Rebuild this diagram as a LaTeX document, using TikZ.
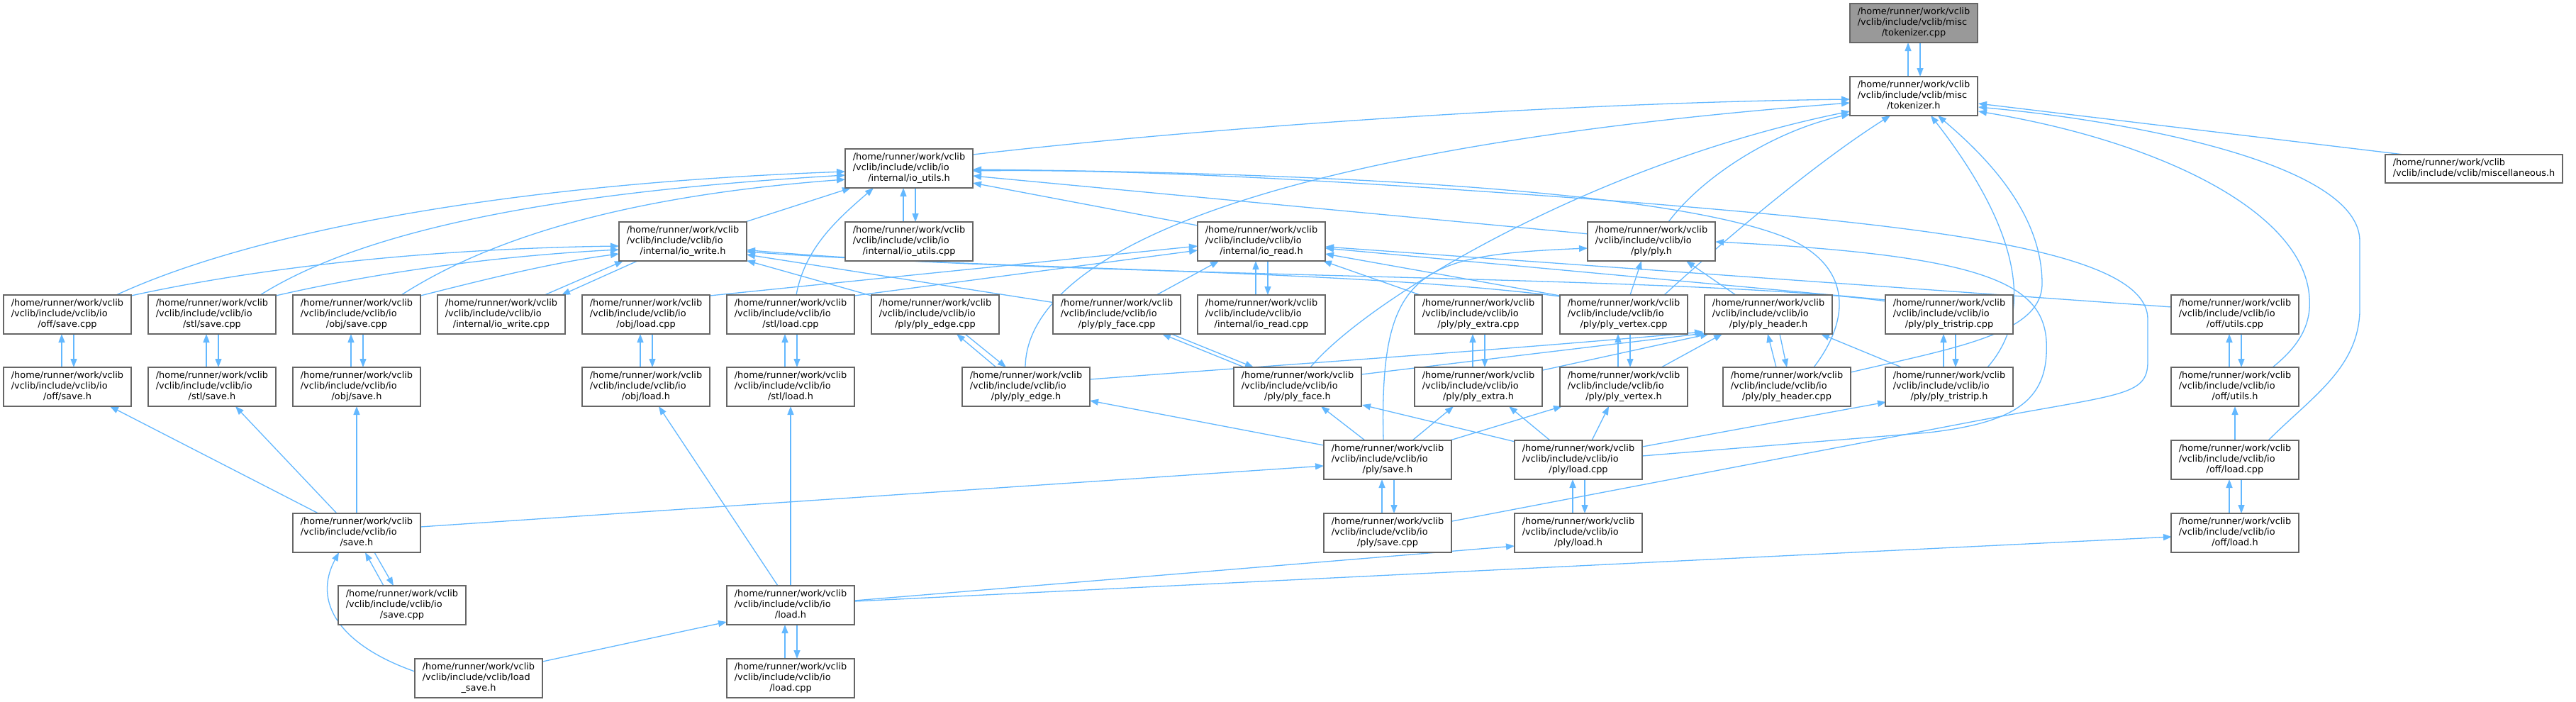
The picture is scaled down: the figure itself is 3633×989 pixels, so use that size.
\documentclass[tikz,border=0pt]{standalone}
\usepackage{fontspec}
\setmainfont{DejaVu Sans}
\usetikzlibrary{arrows.meta}
\definecolor{edgec}{HTML}{63B8FF}
\definecolor{nodeb}{HTML}{666666}
\definecolor{rootf}{HTML}{999999}
\pgfdeclarelayer{bg}
\pgfsetlayers{bg,main}
\newcommand{\lbl}[3]{\begin{tabular}{@{}l@{}}#1\\#2\\\multicolumn{1}{@{}c@{}}{#3}\end{tabular}}
\newcommand{\iol}[1]{\lbl{/home/runner/work/vclib}{/vclib/include/vclib/io}{#1}}
\begin{document}
\begin{tikzpicture}[x=1pt,y=-1pt,
 nbox/.style={draw=nodeb,line width=1.3pt,fill=white,minimum width=180pt,minimum height=55pt,inner sep=0pt,font=\fontsize{12.9}{14.7}\selectfont},
 rootbox/.style={nbox,fill=rootf},
 lnk/.style={draw=edgec,line width=1.3pt,-{Triangle[length=12pt,width=9pt]}}]
\useasboundingbox (0,0) rectangle (3633,989);
% row 0-2
\node[rootbox] (tokcpp) at (2699,32.5) {\lbl{/home/runner/work/vclib}{/vclib/include/vclib/misc}{/tokenizer.cpp}};
\node[nbox] (tokh) at (2699,135.5) {\lbl{/home/runner/work/vclib}{/vclib/include/vclib/misc}{/tokenizer.h}};
\node[nbox] (ioutilsh) at (1282,237.5) {\iol{/internal/io\_utils.h}};
\node[nbox,minimum width=250pt,minimum height=40pt] (misch) at (3489,238) {\begin{tabular}{@{}l@{}}/home/runner/work/vclib\\/vclib/include/vclib/miscellaneous.h\end{tabular}};
% row 3
\node[nbox] (iowriteh) at (963,340.5) {\iol{/internal/io\_write.h}};
\node[nbox] (ioutilscpp) at (1282,340.5) {\iol{/internal/io\_utils.cpp}};
\node[nbox] (ioreadh) at (1779,340.5) {\iol{/internal/io\_read.h}};
\node[nbox] (plyh) at (2329,340.5) {\iol{/ply/ply.h}};
% row 4
\node[nbox] (offsavecpp) at (95,443.5) {\iol{/off/save.cpp}};
\node[nbox] (stlsavecpp) at (299,443.5) {\iol{/stl/save.cpp}};
\node[nbox] (objsavecpp) at (503,443.5) {\iol{/obj/save.cpp}};
\node[nbox] (iowritecpp) at (707,443.5) {\iol{/internal/io\_write.cpp}};
\node[nbox] (objloadcpp) at (911,443.5) {\iol{/obj/load.cpp}};
\node[nbox] (stlloadcpp) at (1115,443.5) {\iol{/stl/load.cpp}};
\node[nbox] (plyedgecpp) at (1319,443.5) {\iol{/ply/ply\_edge.cpp}};
\node[nbox] (plyfacecpp) at (1575,443.5) {\iol{/ply/ply\_face.cpp}};
\node[nbox] (ioreadcpp) at (1779,443.5) {\iol{/internal/io\_read.cpp}};
\node[nbox] (plyextracpp) at (2085,443.5) {\iol{/ply/ply\_extra.cpp}};
\node[nbox] (plyvertexcpp) at (2290,443.5) {\iol{/ply/ply\_vertex.cpp}};
\node[nbox] (plyheaderh) at (2494,443.5) {\iol{/ply/ply\_header.h}};
\node[nbox] (plytristripcpp) at (2749,443.5) {\iol{/ply/ply\_tristrip.cpp}};
\node[nbox] (offutilscpp) at (3152,443.5) {\iol{/off/utils.cpp}};
% row 5
\node[nbox] (offsaveh) at (95,545.5) {\iol{/off/save.h}};
\node[nbox] (stlsaveh) at (299,545.5) {\iol{/stl/save.h}};
\node[nbox] (objsaveh) at (503,545.5) {\iol{/obj/save.h}};
\node[nbox] (objloadh) at (911,545.5) {\iol{/obj/load.h}};
\node[nbox] (stlloadh) at (1115,545.5) {\iol{/stl/load.h}};
\node[nbox] (plyedgeh) at (1447,545.5) {\iol{/ply/ply\_edge.h}};
\node[nbox] (plyfaceh) at (1830,545.5) {\iol{/ply/ply\_face.h}};
\node[nbox] (plyextrah) at (2085,545.5) {\iol{/ply/ply\_extra.h}};
\node[nbox] (plyvertexh) at (2290,545.5) {\iol{/ply/ply\_vertex.h}};
\node[nbox] (plyheadercpp) at (2520,545.5) {\iol{/ply/ply\_header.cpp}};
\node[nbox] (plytristriph) at (2749,545.5) {\iol{/ply/ply\_tristrip.h}};
\node[nbox] (offutilsh) at (3152,545.5) {\iol{/off/utils.h}};
% row 6
\node[nbox] (plysaveh) at (1957,648.5) {\iol{/ply/save.h}};
\node[nbox] (plyloadcpp) at (2226,648.5) {\iol{/ply/load.cpp}};
\node[nbox] (offloadcpp) at (3152,648.5) {\iol{/off/load.cpp}};
% row 7
\node[nbox] (saveh) at (503,751.5) {\iol{/save.h}};
\node[nbox] (plysavecpp) at (1957,751.5) {\iol{/ply/save.cpp}};
\node[nbox] (plyloadh) at (2226,751.5) {\iol{/ply/load.h}};
\node[nbox] (offloadh) at (3152,751.5) {\iol{/off/load.h}};
% row 8-9
\node[nbox] (savecpp) at (567,853.5) {\iol{/save.cpp}};
\node[nbox] (loadh) at (1115,853.5) {\iol{/load.h}};
\node[nbox] (loadsaveh) at (675,956.5) {\lbl{/home/runner/work/vclib}{/vclib/include/vclib/load}{\_save.h}};
\node[nbox] (loadcpp) at (1115,956.5) {\iol{/load.cpp}};

\begin{pgfonlayer}{bg}
\fill[white] (0,0) rectangle (3633,989);
% vertical two-way pairs
\foreach \u/\l in {tokcpp/tokh, ioutilsh/ioutilscpp, ioreadh/ioreadcpp, offsavecpp/offsaveh, stlsavecpp/stlsaveh, objsavecpp/objsaveh, objloadcpp/objloadh, stlloadcpp/stlloadh, plyextracpp/plyextrah, plyvertexcpp/plyvertexh, plytristripcpp/plytristriph, offutilscpp/offutilsh, plysaveh/plysavecpp, plyloadcpp/plyloadh, offloadcpp/offloadh, loadh/loadcpp}{
  \draw[lnk] ([shift={(-8,-27.5)}]\l.center) -- ([shift={(-8,27.5)}]\u.center);
  \draw[lnk] ([shift={(9,27.5)}]\u.center) -- ([shift={(9,-27.5)}]\l.center);
}
% diagonal two-way pairs
\draw[lnk] ([shift={(61,-27.5)}]iowritecpp.center) -- ([shift={(-84,27.5)}]iowriteh.center);
\draw[lnk] ([shift={(-64,27.5)}]iowriteh.center) -- ([shift={(85,-27.5)}]iowritecpp.center);
\draw[lnk] ([shift={(-42,-27.5)}]plyedgeh.center) -- ([shift={(30,27.5)}]plyedgecpp.center);
\draw[lnk] ([shift={(42,27.5)}]plyedgecpp.center) -- ([shift={(-28,-27.5)}]plyedgeh.center);
\draw[lnk] ([shift={(-75,-27.5)}]plyfaceh.center) -- ([shift={(64,27.5)}]plyfacecpp.center);
\draw[lnk] ([shift={(77,27.5)}]plyfacecpp.center) -- ([shift={(-62,-27.5)}]plyfaceh.center);
\draw[lnk] ([shift={(-15,-27.5)}]plyheadercpp.center) -- ([shift={(-1,27.5)}]plyheaderh.center);
\draw[lnk] ([shift={(16,27.5)}]plyheaderh.center) -- ([shift={(0,-27.5)}]plyheadercpp.center);
\draw[lnk] ([shift={(-26,-27.5)}]savecpp.center) -- ([shift={(12,27.5)}]saveh.center);
\draw[lnk] ([shift={(25,27.5)}]saveh.center) -- ([shift={(-12,-27.5)}]savecpp.center);

% into tokenizer.h
\draw[lnk] ([shift={(90,-19.5)}]ioutilsh.center) .. controls (1700,180) and (2200,145) .. ([shift={(-90,4.5)}]tokh.center);
\draw[lnk] ([shift={(-1,-27.5)}]plyedgeh.center) .. controls (1447,380) and (1700,215) .. ([shift={(-90,9.5)}]tokh.center);
\draw[lnk] ([shift={(18,-27.5)}]plyfaceh.center) .. controls (1930,420) and (2250,230) .. ([shift={(-90,21.5)}]tokh.center);
\draw[lnk] ([shift={(24,-27.5)}]plyh.center) .. controls (2400,250) and (2500,185) .. ([shift={(-90,25.5)}]tokh.center);
\draw[lnk] ([shift={(57,-27.5)}]plyvertexcpp.center) .. controls (2430,340) and (2560,230) .. ([shift={(-33,27.5)}]tokh.center);
\draw[lnk] ([shift={(54,-27.5)}]plytristriph.center) .. controls (2880,430) and (2830,300) .. ([shift={(24,27.5)}]tokh.center);
\draw[lnk] ([shift={(90,-20.5)}]plyheadercpp.center) .. controls (2760,490) and (2880,470) .. (2880,400) .. controls (2880,300) and (2800,220) .. ([shift={(34,27.5)}]tokh.center);
\draw[lnk] ([shift={(-99,-20)}]misch.center) -- ([shift={(91,10.5)}]tokh.center);
\draw[lnk] ([shift={(53,-27.5)}]offutilsh.center) .. controls (3240,490) and (3260,460) .. (3257,420) .. controls (3250,300) and (3050,200) .. ([shift={(91,21.5)}]tokh.center);
\draw[lnk] ([shift={(47,-27.5)}]offloadcpp.center) .. controls (3260,560) and (3325,520) .. (3328,440) -- (3328,340) .. controls (3328,230) and (3000,170) .. ([shift={(91,15.5)}]tokh.center);

% into io_utils.h
\draw[lnk] ([shift={(91,-16.5)}]plysavecpp.center) -- (2780,595) .. controls (2990,555) and (3029,560) .. (3029,510) -- (3029,450) .. controls (3029,350) and (2700,318) .. (2300,285) .. controls (1900,255) and (1600,238) .. ([shift={(90,3.5)}]ioutilsh.center);
\draw[lnk] ([shift={(38,-27.5)}]plyheadercpp.center) .. controls (2610,450) and (2610,380) .. (2530,340) .. controls (2400,280) and (2000,245) .. ([shift={(90,1.5)}]ioutilsh.center);
\draw[lnk] ([shift={(-88,-10.5)}]plyh.center) -- ([shift={(90,10.5)}]ioutilsh.center);
\draw[lnk] ([shift={(-90,-22.5)}]ioreadh.center) -- ([shift={(90,20.5)}]ioutilsh.center);
\draw[lnk] ([shift={(88,-27.5)}]iowriteh.center) -- ([shift={(-82,27.5)}]ioutilsh.center);
\draw[lnk] ([shift={(8,-27.5)}]stlloadcpp.center) .. controls (1135,350) and (1180,310) .. ([shift={(-50,27.5)}]ioutilsh.center);
\draw[lnk] ([shift={(69,-27.5)}]offsavecpp.center) .. controls (350,330) and (700,260) .. ([shift={(-90,4.5)}]ioutilsh.center);
\draw[lnk] ([shift={(68,-27.5)}]stlsavecpp.center) .. controls (520,320) and (800,270) .. ([shift={(-90,9.5)}]ioutilsh.center);
\draw[lnk] ([shift={(63,-27.5)}]objsavecpp.center) .. controls (700,330) and (900,275) .. ([shift={(-90,15.5)}]ioutilsh.center);

% into io_write.h
\draw[lnk] ([shift={(90,-26.5)}]offsavecpp.center) .. controls (400,370) and (650,350) .. ([shift={(-90,6.5)}]iowriteh.center);
\draw[lnk] ([shift={(90,-26.5)}]stlsavecpp.center) .. controls (550,380) and (720,360) .. ([shift={(-90,11.5)}]iowriteh.center);
\draw[lnk] ([shift={(90,-26.5)}]objsavecpp.center) .. controls (680,395) and (780,370) .. ([shift={(-90,17.5)}]iowriteh.center);
\draw[lnk] ([shift={(-90,-26.5)}]plyedgecpp.center) -- ([shift={(90,27)}]iowriteh.center);
\draw[lnk] ([shift={(-90,-17)}]plyfacecpp.center) -- ([shift={(90,18.5)}]iowriteh.center);
\draw[lnk] ([shift={(-90,-25.5)}]plyvertexcpp.center) .. controls (1900,380) and (1400,380) .. ([shift={(90,14.5)}]iowriteh.center);
\draw[lnk] ([shift={(-88,-18.5)}]plytristripcpp.center) .. controls (2400,388) and (1500,392) .. ([shift={(90,12)}]iowriteh.center);

% into io_read.h
\draw[lnk] ([shift={(90,-26.5)}]objloadcpp.center) -- ([shift={(-90,6.5)}]ioreadh.center);
\draw[lnk] ([shift={(90,-26.5)}]stlloadcpp.center) -- ([shift={(-90,12.5)}]ioreadh.center);
\draw[lnk] ([shift={(56,-27.5)}]plyfacecpp.center) -- ([shift={(-60,27.5)}]ioreadh.center);
\draw[lnk] ([shift={(-82,-27.5)}]plyextracpp.center) -- ([shift={(87,27.5)}]ioreadh.center);
\draw[lnk] ([shift={(-90,-26.5)}]plyvertexcpp.center) -- ([shift={(90,17.5)}]ioreadh.center);
\draw[lnk] ([shift={(-89,-20.5)}]plytristripcpp.center) -- ([shift={(90,9.5)}]ioreadh.center);
\draw[lnk] ([shift={(-89,-10.5)}]offutilscpp.center) -- ([shift={(90,7.5)}]ioreadh.center);

% into ply.h
\draw[lnk] ([shift={(-6,-27.5)}]plysaveh.center) .. controls (1945,380) and (2000,360) .. ([shift={(-90,9.5)}]plyh.center);
\draw[lnk] ([shift={(9,-27.5)}]plyvertexcpp.center) -- ([shift={(-14,27.5)}]plyh.center);
\draw[lnk] ([shift={(-46,-27.5)}]plyheaderh.center) -- ([shift={(49,27.5)}]plyh.center);
\draw[lnk] ([shift={(90,-5.5)}]plyloadcpp.center) -- (2720,610) .. controls (2850,595) and (2890,560) .. (2886,480) .. controls (2880,400) and (2800,360) .. ([shift={(90,0.5)}]plyh.center);

% into ply_header.h
\draw[lnk] ([shift={(90,-10.5)}]plyedgeh.center) .. controls (1800,515) and (2100,495) .. ([shift={(-92,24.5)}]plyheaderh.center);
\draw[lnk] ([shift={(90,-17.5)}]plyfaceh.center) -- ([shift={(-90,26.5)}]plyheaderh.center);
\draw[lnk] ([shift={(91,-23.5)}]plyextrah.center) -- ([shift={(-84,27.5)}]plyheaderh.center);
\draw[lnk] ([shift={(53,-27.5)}]plyvertexh.center) -- ([shift={(-65,27.5)}]plyheaderh.center);
\draw[lnk] ([shift={(-67,-27.5)}]plytristriph.center) -- ([shift={(74,27.5)}]plyheaderh.center);

% ply/save.h and ply/load.cpp to ply element headers
\draw[lnk] ([shift={(-90,-20.5)}]plysaveh.center) -- ([shift={(90,19.5)}]plyedgeh.center);
\draw[lnk] ([shift={(-32,-27.5)}]plysaveh.center) -- ([shift={(33,27.5)}]plyfaceh.center);
\draw[lnk] ([shift={(35,-27.5)}]plysaveh.center) -- ([shift={(-35,27.5)}]plyextrah.center);
\draw[lnk] ([shift={(88,-27.5)}]plysaveh.center) -- ([shift={(-87,27.5)}]plyvertexh.center);
\draw[lnk] ([shift={(-89,-25.5)}]plyloadcpp.center) -- ([shift={(91,25.5)}]plyfaceh.center);
\draw[lnk] ([shift={(-40,-27.5)}]plyloadcpp.center) -- ([shift={(43,27.5)}]plyextrah.center);
\draw[lnk] ([shift={(19,-27.5)}]plyloadcpp.center) -- ([shift={(-21,27.5)}]plyvertexh.center);
\draw[lnk] ([shift={(90,-18.5)}]plyloadcpp.center) -- ([shift={(-89,21.5)}]plytristriph.center);

% off
\draw[lnk] ([shift={(0,-27.5)}]offloadcpp.center) -- ([shift={(0,27.5)}]offutilsh.center);

% save.h / load.h
\draw[lnk] ([shift={(90,-8.5)}]saveh.center) -- ([shift={(-90,8.5)}]plysaveh.center);
\draw[lnk] ([shift={(-54,-27.5)}]saveh.center) -- ([shift={(60,27.5)}]offsaveh.center);
\draw[lnk] ([shift={(-28,-27.5)}]saveh.center) -- ([shift={(33,27.5)}]stlsaveh.center);
\draw[lnk] ([shift={(0,-27.5)}]saveh.center) -- ([shift={(0,27.5)}]objsaveh.center);
\draw[lnk] ([shift={(-90,-9.5)}]loadsaveh.center) .. controls (480,910) and (440,850) .. ([shift={(-25,27.5)}]saveh.center);
\draw[lnk] ([shift={(90,-23.5)}]loadsaveh.center) -- ([shift={(-90,23.5)}]loadh.center);
\draw[lnk] ([shift={(-18,-27.5)}]loadh.center) -- ([shift={(18,27.5)}]objloadh.center);
\draw[lnk] ([shift={(0,-27.5)}]loadh.center) -- ([shift={(0,27.5)}]stlloadh.center);
\draw[lnk] ([shift={(90,-6.5)}]loadh.center) -- ([shift={(-90,18.5)}]plyloadh.center);
\draw[lnk] ([shift={(90,-5.5)}]loadh.center) -- ([shift={(-89,5.5)}]offloadh.center);
\end{pgfonlayer}
\end{tikzpicture}
\end{document}
